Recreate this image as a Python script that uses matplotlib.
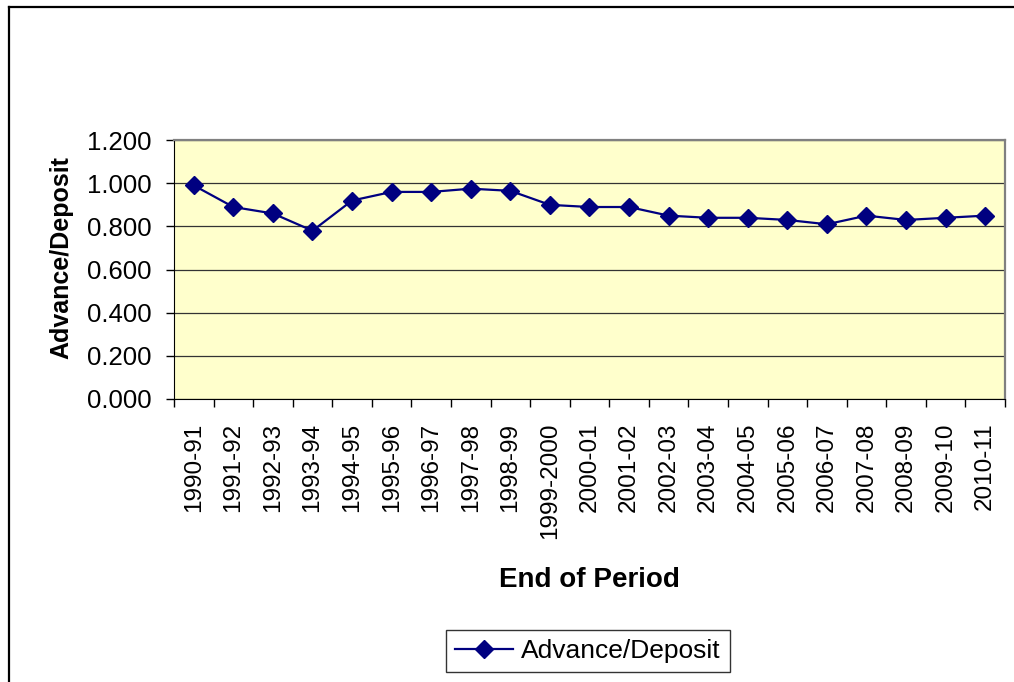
import matplotlib.pyplot as plt
from matplotlib.lines import Line2D
from matplotlib.ticker import FixedLocator, FormatStrFormatter

plt.rcParams['font.family'] = ['Liberation Sans', 'DejaVu Sans']

# Dados
periods = ["1990-91", "1991-92", "1992-93", "1993-94", "1994-95", "1995-96", "1996-97",
           "1997-98", "1998-99", "1999-2000", "2000-01", "2001-02", "2002-03", "2003-04",
           "2004-05", "2005-06", "2006-07", "2007-08", "2008-09", "2009-10", "2010-11"]
ratio = [0.99, 0.89, 0.86, 0.78, 0.92, 0.96, 0.96,
         0.975, 0.965, 0.90, 0.89, 0.89, 0.85, 0.84,
         0.84, 0.83, 0.81, 0.85, 0.83, 0.84, 0.85]
yticks = [0.0, 0.2, 0.4, 0.6, 0.8, 1.0, 1.2]

fig = plt.figure(figsize=(10.14, 6.82), dpi=100)
ax = fig.add_axes([0.1716, 0.415, 0.8195, 0.3795])
ax.set_facecolor('#FFFFCC')

x = list(range(len(periods)))
ax.plot(x, ratio, color='#000080', lw=1.6, marker='D', markersize=9.5,
        markerfacecolor='#000080', markeredgecolor='#000080', label='Advance/Deposit')

ax.set_xlim(-0.5, len(periods) - 0.5)
ax.set_ylim(0, 1.2)
ax.set_yticks(yticks)
ax.yaxis.set_major_formatter(FormatStrFormatter('%.3f'))
ax.grid(axis='y', color='#333333', lw=0.9)
ax.set_axisbelow(True)

# marcas entre categorias, rotulos no centro
ax.set_xticks(x)
ax.set_xticklabels(periods, rotation=90, fontsize=17.5)
ax.xaxis.set_minor_locator(FixedLocator([i - 0.5 for i in range(len(periods) + 1)]))
ax.tick_params(axis='x', which='major', length=0, pad=17)
ax.tick_params(axis='x', which='minor', length=6, width=1, color='black')
ax.tick_params(axis='y', length=6, width=1, pad=10, labelsize=18.5)

for side in ['top', 'right']:
    ax.spines[side].set_color('#808080')
    ax.spines[side].set_linewidth(1.6)
ax.spines['left'].set_color('black')
ax.spines['bottom'].set_color('black')

ax.set_xlabel('End of Period', fontsize=20, fontweight='bold')
ax.xaxis.set_label_coords(0.5, -0.65)
fig.text(0.061, 0.623, 'Advance/Deposit', rotation=90, fontsize=18, fontweight='bold',
         ha='center', va='center')

leg = ax.legend(loc='center', bbox_to_anchor=(0.58, 0.0455), bbox_transform=fig.transFigure,
                fontsize=19, frameon=True, fancybox=False, handlelength=2.2,
                borderpad=0.35, handletextpad=0.3)
leg.get_frame().set_edgecolor('black')
leg.get_frame().set_linewidth(1)

# moldura externa (so esquerda e topo aparecem)
fig.add_artist(Line2D([9 / 1014, 9 / 1014], [0, 1 - 7 / 682], color='black', lw=1.6,
                      transform=fig.transFigure))
fig.add_artist(Line2D([9 / 1014, 1], [1 - 7 / 682, 1 - 7 / 682], color='black', lw=1.6,
                      transform=fig.transFigure))

fig.savefig('out.png', dpi=100)
